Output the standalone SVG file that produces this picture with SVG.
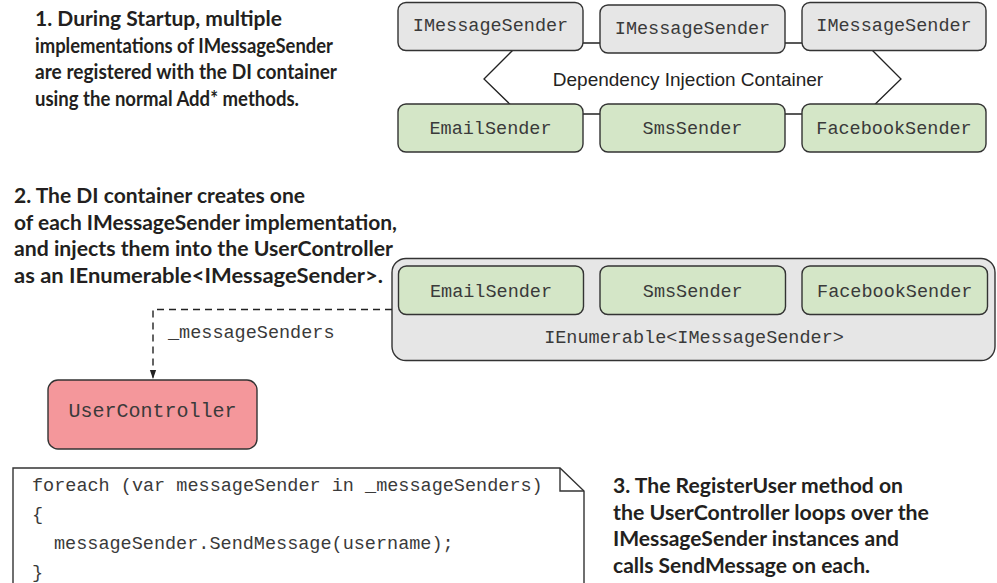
<svg xmlns="http://www.w3.org/2000/svg" width="997" height="583" viewBox="0 0 997 583">
  <defs>
    <style>
      .note { font-family: Lato, "Liberation Sans", sans-serif; font-weight: 700; font-size: 20px; fill: #231f20; }
      .mono { font-family: "Liberation Mono", "Courier New", monospace; font-size: 18.5px; fill: #3a3a3a; }
      .code { font-family: "Liberation Mono", "Courier New", monospace; font-size: 18.5px; fill: #3a3a3a; }
      .sans { font-family: "Liberation Sans", Arial, sans-serif; font-size: 19px; fill: #222222; }
      .box { stroke: #333333; stroke-width: 1.4; }
      .gray { fill: #e6e6e6; }
      .green { fill: #d4e6c7; }
      .pink { fill: #f4979b; }
      .line { fill: none; stroke: #222222; stroke-width: 1.3; }
      .dash { fill: none; stroke: #222222; stroke-width: 1.4; stroke-dasharray: 7 5; }
    </style>
    <marker id="arrow" markerWidth="9" markerHeight="13" refX="13" refY="4.5" orient="auto" markerUnits="userSpaceOnUse" viewBox="0 0 13 9">
      <path d="M0,0 L13,4.5 L0,9 Z" fill="#222222"/>
    </marker>
  </defs>

  <rect width="997" height="583" fill="#ffffff"/>

  <!-- Annotations -->
  <g id="note1">
    <text class="note" x="35" y="26" textLength="247" lengthAdjust="spacingAndGlyphs">1. During Startup, multiple</text>
    <text class="note" x="35" y="52.7" textLength="298" lengthAdjust="spacingAndGlyphs">implementations of IMessageSender</text>
    <text class="note" x="35" y="79.3" textLength="302" lengthAdjust="spacingAndGlyphs">are registered with the DI container</text>
    <text class="note" x="35" y="106" textLength="264" lengthAdjust="spacingAndGlyphs">using the normal Add* methods.</text>
  </g>
  <g id="note2">
    <text class="note" x="14" y="203" textLength="291" lengthAdjust="spacingAndGlyphs">2. The DI container creates one</text>
    <text class="note" x="14" y="229.7" textLength="383" lengthAdjust="spacingAndGlyphs">of each IMessageSender implementation,</text>
    <text class="note" x="14" y="256.3" textLength="379" lengthAdjust="spacingAndGlyphs">and injects them into the UserController</text>
    <text class="note" x="14" y="283" textLength="369" lengthAdjust="spacingAndGlyphs">as an IEnumerable&lt;IMessageSender&gt;.</text>
  </g>
  <g id="note3">
    <text class="note" x="613" y="493" textLength="290" lengthAdjust="spacingAndGlyphs">3. The RegisterUser method on</text>
    <text class="note" x="613" y="519.7" textLength="316" lengthAdjust="spacingAndGlyphs">the UserController loops over the</text>
    <text class="note" x="613" y="546.3" textLength="286" lengthAdjust="spacingAndGlyphs">IMessageSender instances and</text>
    <text class="note" x="613" y="573" textLength="257" lengthAdjust="spacingAndGlyphs">calls SendMessage on each.</text>
  </g>

  <!-- DI container -->
  <g id="di-container">
    <polygon class="line" points="484,79 520,43 865,43 901,79 865,114 520,114" fill="#ffffff"/>
    <text class="sans" x="688" y="86" text-anchor="middle">Dependency Injection Container</text>
  </g>
  <g id="imessagesender-1">
    <rect class="box gray" x="398" y="2.5" width="185" height="48" rx="8"/>
    <text class="mono" x="490.5" y="31" text-anchor="middle">IMessageSender</text>
  </g>
  <g id="imessagesender-2">
    <rect class="box gray" x="600" y="5" width="185" height="48" rx="8"/>
    <text class="mono" x="692.5" y="34" text-anchor="middle">IMessageSender</text>
  </g>
  <g id="imessagesender-3">
    <rect class="box gray" x="802" y="2.5" width="184" height="48" rx="8"/>
    <text class="mono" x="894" y="31" text-anchor="middle">IMessageSender</text>
  </g>
  <g id="emailsender-1">
    <rect class="box green" x="398" y="104" width="185" height="48" rx="8"/>
    <text class="mono" x="490.5" y="134" text-anchor="middle">EmailSender</text>
  </g>
  <g id="smssender-1">
    <rect class="box green" x="600" y="104" width="185" height="48" rx="8"/>
    <text class="mono" x="692.5" y="134" text-anchor="middle">SmsSender</text>
  </g>
  <g id="facebooksender-1">
    <rect class="box green" x="802" y="104" width="184" height="48" rx="8"/>
    <text class="mono" x="894" y="134" text-anchor="middle">FacebookSender</text>
  </g>

  <!-- IEnumerable container -->
  <g id="ienumerable">
    <rect class="box gray" x="392" y="258.5" width="603" height="102" rx="14"/>
    <text class="mono" x="694" y="343" text-anchor="middle">IEnumerable&lt;IMessageSender&gt;</text>
  </g>
  <g id="emailsender-2">
    <rect class="box green" x="398.5" y="266" width="185" height="48.5" rx="8"/>
    <text class="mono" x="491" y="297" text-anchor="middle">EmailSender</text>
  </g>
  <g id="smssender-2">
    <rect class="box green" x="600" y="266" width="185.5" height="48.5" rx="8"/>
    <text class="mono" x="692.75" y="297" text-anchor="middle">SmsSender</text>
  </g>
  <g id="facebooksender-2">
    <rect class="box green" x="802" y="266" width="185.5" height="48.5" rx="8"/>
    <text class="mono" x="894.75" y="297" text-anchor="middle">FacebookSender</text>
  </g>

  <!-- UserController -->
  <g id="usercontroller">
    <rect class="box pink" x="48" y="380" width="209" height="69" rx="10"/>
    <text class="mono" x="152.5" y="417" text-anchor="middle" style="font-size:20px">UserController</text>
  </g>

  <!-- Code note -->
  <g id="code-note">
    <path d="M13,590 V468 H560 L584,491 V590" fill="#ffffff" stroke="#333333" stroke-width="1.4"/>
    <path d="M560,468 V491 H584" fill="none" stroke="#333333" stroke-width="1.4"/>
    <text class="code" x="32" y="491">foreach (var messageSender in _messageSenders)</text>
    <text class="code" x="32" y="520">{</text>
    <text class="code" x="54" y="549">messageSender.SendMessage(username);</text>
    <text class="code" x="32" y="577.5">}</text>
  </g>

  <!-- Connectors -->
  <g id="connectors">
    <path class="dash" d="M392,309.5 H153 V379" marker-end="url(#arrow)"/>
    <text class="mono" x="168" y="338">_messageSenders</text>
  </g>
</svg>
